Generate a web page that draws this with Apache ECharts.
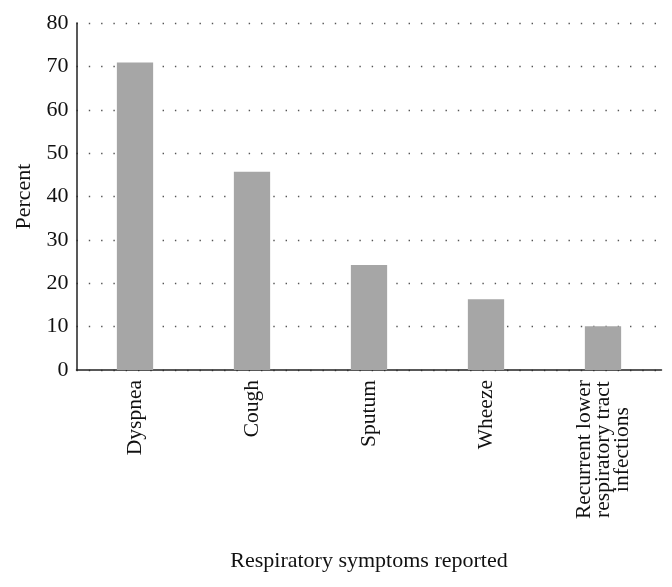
<!DOCTYPE html>
<html>
<head>
<meta charset="utf-8">
<script src="https://cdn.jsdelivr.net/npm/echarts@6/dist/echarts.min.js"></script>
<style>html,body{margin:0;padding:0;background:#fff}#c{width:672px;height:587px}</style>
</head>
<body>
<div id="c"></div>
<script>
const categories = ['Dyspnea', 'Cough', 'Sputum', 'Wheeze', 'Recurrent lower\nrespiratory tract\ninfections'];
const percentValues = [70.9, 45.7, 24.2, 16.3, 10.1];
const yTicks = [0, 10, 20, 30, 40, 50, 60, 70, 80];

const font = '"Liberation Serif", "DejaVu Serif", serif';
const chart = echarts.init(document.getElementById('c'), null, {renderer: 'canvas'});
chart.setOption({
  animation: false,
  backgroundColor: '#fff',
  grid: {left: 76.5, right: 10.5, top: 23, bottom: 217, containLabel: false},
  xAxis: {
    type: 'category',
    data: categories,
    name: 'Respiratory symptoms reported',
    nameLocation: 'middle',
    nameGap: 180,
    nameTextStyle: {fontFamily: font, fontSize: 22, color: '#111'},
    axisLine: {lineStyle: {color: '#222', width: 1.5}},
    axisTick: {show: false},
    axisLabel: {
      rotate: 90,
      interval: 0,
      margin: 10,
      fontFamily: font,
      fontSize: 21.5,
      color: '#111',
      lineHeight: 19,
      formatter: function (v) {
        return v.split('\n').map(function (s) { return '{c|' + s + '}'; }).join('\n');
      },
      rich: {c: {fontFamily: font, fontSize: 21.5, color: '#111', align: 'center', lineHeight: 19}}
    }
  },
  yAxis: {
    type: 'value',
    min: 0,
    max: 80,
    interval: 10,
    name: 'Percent',
    nameLocation: 'middle',
    nameGap: 41,
    nameTextStyle: {fontFamily: font, fontSize: 22, color: '#111'},
    axisLine: {show: true, lineStyle: {color: '#222', width: 1.5}},
    axisTick: {show: false},
    axisLabel: {
      margin: 8,
      fontFamily: font,
      fontSize: 22,
      color: '#111',
      formatter: function (v) { return yTicks.indexOf(v) >= 0 ? String(v) : ''; }
    },
    splitLine: {show: true, lineStyle: {color: '#555', width: 1.4, type: [1.4, 10.9]}}
  },
  series: [{
    type: 'bar',
    data: percentValues,
    barWidth: '31%',
    itemStyle: {color: '#a6a6a6'}
  }]
});
</script>
</body>
</html>
